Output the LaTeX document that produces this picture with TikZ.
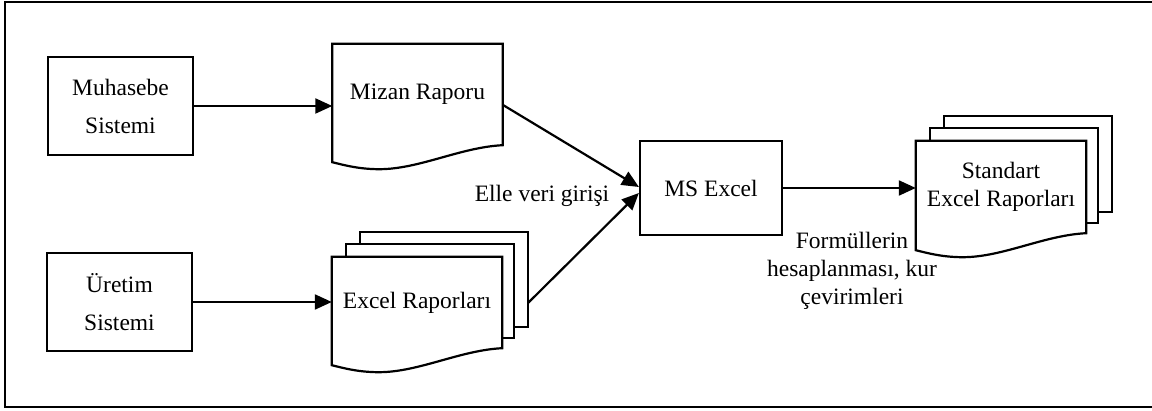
\documentclass[tikz,border=0pt]{standalone}
\usepackage{fontspec}
\setmainfont{Liberation Serif}
\usetikzlibrary{arrows.meta,calc,backgrounds}
\newcommand\docpath[1]{(#1.north west) -- (#1.north east) -- (#1.south east)
  .. controls ($(#1.south east)+(-42,2)$) and ($(#1.south west)+(87,24)$) .. ($(#1.south west)+(47,24)$)
  .. controls ($(#1.south west)+(27,24)$) and ($(#1.south west)+(12,20)$) .. ($(#1.south west)+(0,17)$) -- cycle}
\begin{document}
\begin{tikzpicture}[x=1pt,y=-1pt,
  every node/.style={font=\fontsize{23.5}{28}\selectfont},
  sysbox/.style={draw, line width=2.2pt, minimum width=145pt, minimum height=98pt, align=center, inner sep=0pt},
  docarea/.style={minimum width=170pt, inner sep=0pt, align=center},
  outline/.style={draw, fill=white, line width=2.2pt},
  arr/.style={line width=2.2pt, -{Triangle[length=17pt,width=15pt]}},
  lbl/.style={align=center, inner sep=0pt}]
\useasboundingbox (0,0) rectangle (1152,411);
\draw[line width=2.2pt] (1152,2) -- (5,2) -- (5,407) -- (1152,407);

\node[sysbox] (muh) at (120.5,106) {Muhasebe\\[10pt]Sistemi};
\node[sysbox] (ure) at (119.5,302) {Üretim\\[10pt]Sistemi};
\node[sysbox, minimum width=142pt, minimum height=94pt] (msx) at (711,188) {MS Excel};

\node[docarea, minimum height=101pt] (mizan) at (417.5,94.5) {Mizan Raporu};
\node[docarea, minimum height=91pt] (excelr) at (417,302.5) {Excel Raporları};
\node[docarea, minimum height=92pt] (std) at (1001,187) {Standart\\Excel Raporları};

\begin{scope}[on background layer]
  \draw[outline] ($(excelr.north west)+(28,-25)$) rectangle ($(excelr.south east)+(26,-21)$);
  \draw[outline] ($(excelr.north west)+(14,-13)$) rectangle ($(excelr.south east)+(12,-10)$);
  \draw[outline] ($(std.north west)+(28,-25)$) rectangle ($(std.south east)+(26,-21)$);
  \draw[outline] ($(std.north west)+(14,-13)$) rectangle ($(std.south east)+(12,-10)$);
  \draw[outline] \docpath{mizan};
  \draw[outline] \docpath{excelr};
  \draw[outline] \docpath{std};
\end{scope}

\coordinate (exback) at ($(excelr.north east)+(26,46)$);
\draw[arr] (muh.east) -- (muh.east -| mizan.west);
\draw[arr] (ure.east) -- (ure.east -| excelr.west);
\draw[arr] ($(mizan.north east)+(0,61)$) -- ($(msx.west)+(0,-1)$);
\draw[arr] (exback) -- ($(msx.west)+(0,5)$);
\draw[arr] (msx.east) -- (msx.east -| std.west);

\node[lbl] (elle) at (542,196) {Elle veri girişi};
\node[lbl] (form) at (852,271) {Formüllerin\\hesaplanması, kur\\çevirimleri};
\end{tikzpicture}
\end{document}
